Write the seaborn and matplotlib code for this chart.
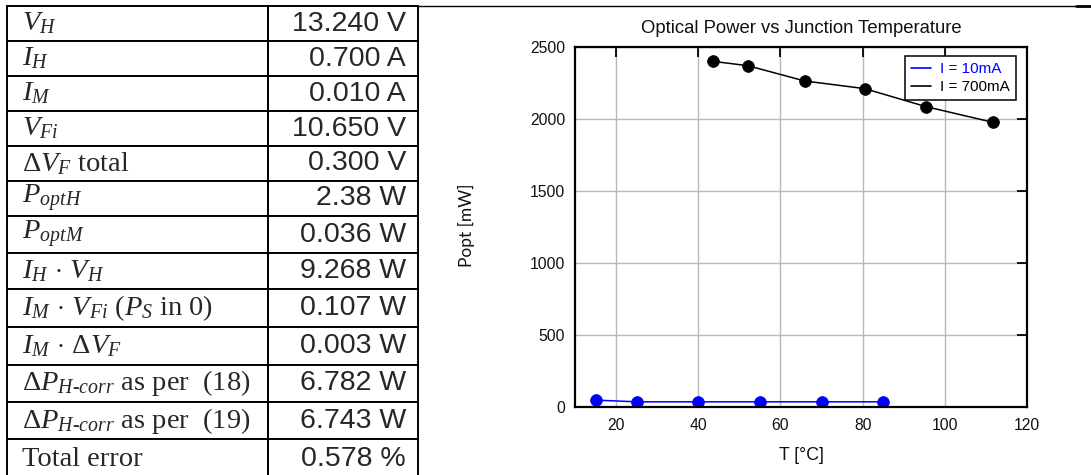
import numpy as np
import pandas as pd
import matplotlib
matplotlib.use("Agg")
import matplotlib.pyplot as plt
from matplotlib.lines import Line2D
import seaborn as sns

# ---------------- data ----------------
row_labels = [
    r"$V_H$",
    r"$I_H$",
    r"$I_M$",
    r"$V_{Fi}$",
    r"$\Delta V_F$ total",
    r"$P_{optH}$",
    r"$P_{optM}$",
    r"$I_H\,\cdot\,V_H$",
    r"$I_M\,\cdot\,V_{Fi}$ ($P_S$ in 0)",
    r"$I_M\,\cdot\,\Delta V_F$",
    r"$\Delta P_{H\text{-}corr}$ as per  (18)",
    r"$\Delta P_{H\text{-}corr}$ as per  (19)",
    "Total error",
]
row_values = ["13.240 V", "0.700 A", "0.010 A", "10.650 V", "0.300 V", "2.38 W",
              "0.036 W", "9.268 W", "0.107 W", "0.003 W", "6.782 W", "6.743 W",
              "0.578 %"]

series_names = ["I = 10mA", "I = 700mA"]
series_colors = ["blue", "black"]
t_10mA = [15, 25, 40, 55, 70, 85]
p_10mA = [48, 36, 36, 36, 36, 36]
t_700mA = [43.7, 52.1, 65.9, 80.5, 95.4, 111.7]
p_700mA = [2400, 2370, 2264, 2211, 2086, 1977]

x_ticks = [20, 40, 60, 80, 100, 120]
y_ticks = [0, 500, 1000, 1500, 2000, 2500]

title = "Optical Power vs Junction Temperature"
x_label = "T [°C]"
y_label = "Popt [mW]"

# ---------------- style ----------------
sns.set_theme(style="white")
plt.rcParams["font.family"] = ["Liberation Sans", "DejaVu Sans"]
plt.rcParams["mathtext.fontset"] = "custom"
plt.rcParams["mathtext.rm"] = "Liberation Serif"
plt.rcParams["mathtext.it"] = "Liberation Serif:italic"
plt.rcParams["mathtext.bf"] = "Liberation Serif:bold"

W, H = 1091, 475
fig = plt.figure(figsize=(W / 100, H / 100), dpi=100)

# ---------------- table ----------------
tab_ax = fig.add_axes([7 / W, 1 - 479 / H, 411 / W, 473 / H])
tab_ax.axis("off")
cell_text = [[lab, val] for lab, val in zip(row_labels, row_values)]
tbl = tab_ax.table(cellText=cell_text, colWidths=[261 / 411, 150 / 411],
                   bbox=[0, 0, 1, 1], edges="closed")
tbl.auto_set_font_size(False)
row_h = [35, 35, 35, 35, 35, 35, 37, 36, 38, 38, 37, 37, 40]
for (r, c), cell in tbl.get_celld().items():
    cell.set_height(row_h[r])
    cell.set_linewidth(1.4)
    cell.set_edgecolor("black")
    txt = cell.get_text()
    if c == 0:
        cell.PAD = 15 / 261
        txt.set_ha("left")
        txt.set_fontfamily("Liberation Serif")
        txt.set_fontsize(20.5)
    else:
        cell.PAD = 12 / 150
        txt.set_ha("right")
        txt.set_fontfamily("Liberation Sans")
        txt.set_fontsize(20.5)
    cell._loc = "left" if c == 0 else "right"

# ---------------- chart ----------------
ax = fig.add_axes([575 / W, 1 - 407 / H, 452 / W, 360 / H])
series = [(t_10mA, p_10mA), (t_700mA, p_700mA)]
for (tx, py), name, col in zip(series, series_names, series_colors):
    df = pd.DataFrame({"T": tx, "P": py})
    sns.lineplot(data=df, x="T", y="P", ax=ax, color=col, marker="o",
                 markersize=8.5, markeredgecolor=col, markeredgewidth=0.5,
                 linewidth=1.1, legend=False)

ax.set_xlim(10, 120)
ax.set_ylim(0, 2500)
ax.set_xticks(x_ticks)
ax.set_yticks(y_ticks)
ax.grid(True, color="#b8b8b8", linewidth=1)
ax.set_axisbelow(True)
for s in ax.spines.values():
    s.set_color("black")
    s.set_linewidth(1.6)
ax.tick_params(axis="both", which="major", direction="in", length=7, width=1.3,
               color="black", top=True, right=True, labelsize=11.3,
               labelcolor="#111111")
ax.tick_params(axis="x", pad=8)
ax.tick_params(axis="y", pad=7)

ax.set_title(title, fontsize=13.3, pad=10, color="#111111")
ax.set_xlabel(x_label, fontsize=12.8, color="#111111")
ax.xaxis.set_label_coords(0.5, -0.112)
ax.set_ylabel(y_label, fontsize=12.5, fontfamily=["Lato", "DejaVu Sans"],
              color="#111111")
ax.yaxis.set_label_coords(-0.222, 0.505)

handles = [Line2D([], [], color=c, linewidth=1.2) for c in series_colors]
leg = ax.legend(handles, series_names, loc="upper right",
                bbox_to_anchor=(0.9757, 0.975), borderaxespad=0,
                fontsize=11, labelcolor=series_colors, fancybox=False,
                framealpha=1, edgecolor="black", handlelength=1.3,
                handletextpad=0.6, borderpad=0.4, labelspacing=0.25)
leg.get_frame().set_linewidth(1.1)

# top rule of the surrounding document
fig.add_artist(Line2D([418 / W, 1075 / W], [1 - 5.5 / H] * 2, color="black",
                      linewidth=1.0, transform=fig.transFigure))
fig.add_artist(Line2D([1076 / W, 1.0], [1 - 6 / H] * 2, color="black",
                      linewidth=2.0, transform=fig.transFigure))

fig.savefig("out.png", dpi=100)
